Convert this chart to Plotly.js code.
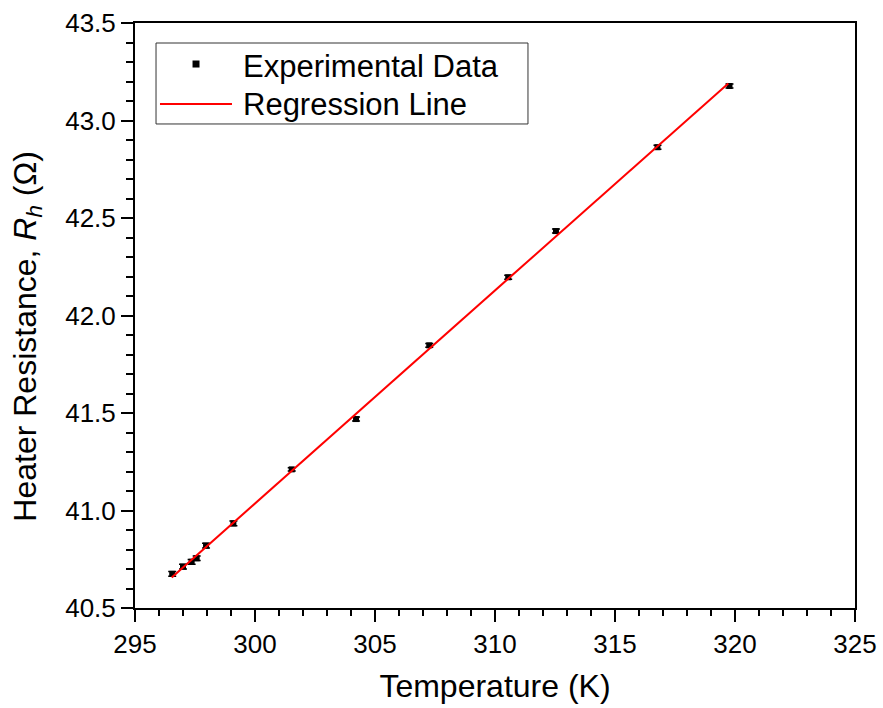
<!DOCTYPE html>
<html>
<head>
<meta charset="utf-8">
<script src="https://cdn.plot.ly/plotly-3.0.1.min.js"></script>
<style>html,body{margin:0;padding:0;background:#fff;}#chart{width:883px;height:708px;}</style>
</head>
<body>
<div id="chart"></div>
<script>
var temperatureK = [296.55, 297.0, 297.36, 297.57, 297.96, 299.1, 301.53, 304.21, 307.26, 310.55, 312.54, 316.77, 319.77];
var resistanceOhm = [40.675, 40.712, 40.737, 40.755, 40.82, 40.934, 41.211, 41.469, 41.847, 42.196, 42.433, 42.863, 43.177];
var resistanceErr = [0.012, 0.012, 0.012, 0.012, 0.012, 0.012, 0.008, 0.01, 0.01, 0.01, 0.01, 0.01, 0.01];
// Regression line end points
var regTemperatureK = [296.53, 319.72];
var regResistanceOhm = [40.657, 43.19];
var legendLabels = ['Experimental Data', 'Regression Line'];

var FONT = 'Arial, "Liberation Sans", sans-serif';

var traces = [
  {
    x: temperatureK, y: resistanceOhm, type: 'scatter', mode: 'markers',
    name: legendLabels[0],
    marker: {symbol: 'square', size: 6, color: '#000'},
    error_y: {type: 'data', array: resistanceErr, visible: true, color: '#000', thickness: 1.5, width: 4}
  },
  {
    x: regTemperatureK, y: regResistanceOhm, type: 'scatter', mode: 'lines',
    name: legendLabels[1],
    line: {color: '#ff0000', width: 2}
  }
];

var axisCommon = {
  showline: true, linecolor: '#000', linewidth: 2, mirror: true,
  ticks: 'outside', ticklen: 12, tickwidth: 2, tickcolor: '#000',
  showgrid: false, zeroline: false,
  tickfont: {family: FONT, size: 26, color: '#000'}
};

var layout = {
  width: 883, height: 708,
  margin: {l: 135, r: 28, t: 23, b: 100},
  paper_bgcolor: '#fff', plot_bgcolor: '#fff',
  font: {family: FONT, color: '#000'},
  showlegend: false,
  xaxis: Object.assign({}, axisCommon, {
    range: [295, 325], dtick: 5, tick0: 295,
    minor: {dtick: 1, ticks: 'outside', ticklen: 6, tickwidth: 2, tickcolor: '#000'},
    title: {text: 'Temperature (K)', font: {family: FONT, size: 32, color: '#000'}, standoff: 16}
  }),
  yaxis: Object.assign({}, axisCommon, {
    range: [40.5, 43.5], dtick: 0.5, tick0: 40.5, tickformat: '.1f',
    minor: {dtick: 0.1, ticks: 'outside', ticklen: 7, tickwidth: 2, tickcolor: '#000'}
  }),
  annotations: [
    {xref: 'paper', yref: 'paper', x: -0.149, y: 0.465, xanchor: 'center', yanchor: 'middle',
     textangle: -90, showarrow: false,
     text: 'Heater Resistance, <i>R</i><sub><i>h</i></sub> (Ω)',
     font: {family: FONT, size: 32, color: '#000'}},
    {xref: 'paper', yref: 'paper', x: 0.1472, y: 0.9248, xanchor: 'left', yanchor: 'middle',
     showarrow: false, text: legendLabels[0], font: {family: FONT, size: 31, color: '#000'}},
    {xref: 'paper', yref: 'paper', x: 0.1472, y: 0.8615, xanchor: 'left', yanchor: 'middle',
     showarrow: false, text: legendLabels[1], font: {family: FONT, size: 31, color: '#000'}}
  ],
  shapes: [
    {type: 'rect', xref: 'paper', yref: 'paper', x0: 0.0292, x1: 0.5458, y0: 0.8274, y1: 0.9658,
     line: {color: '#333', width: 1}, fillcolor: 'rgba(0,0,0,0)'},
    {type: 'rect', xref: 'paper', yref: 'paper', x0: 0.0799, x1: 0.0896, y0: 0.9239, y1: 0.9359,
     line: {color: '#000', width: 0}, fillcolor: '#000'},
    {type: 'line', xref: 'paper', yref: 'paper', x0: 0.0347, x1: 0.1347, y0: 0.8615, y1: 0.8615,
     line: {color: '#ff0000', width: 2}}
  ]
};

Plotly.newPlot('chart', traces, layout, {displayModeBar: false, staticPlot: true});
</script>
</body>
</html>
